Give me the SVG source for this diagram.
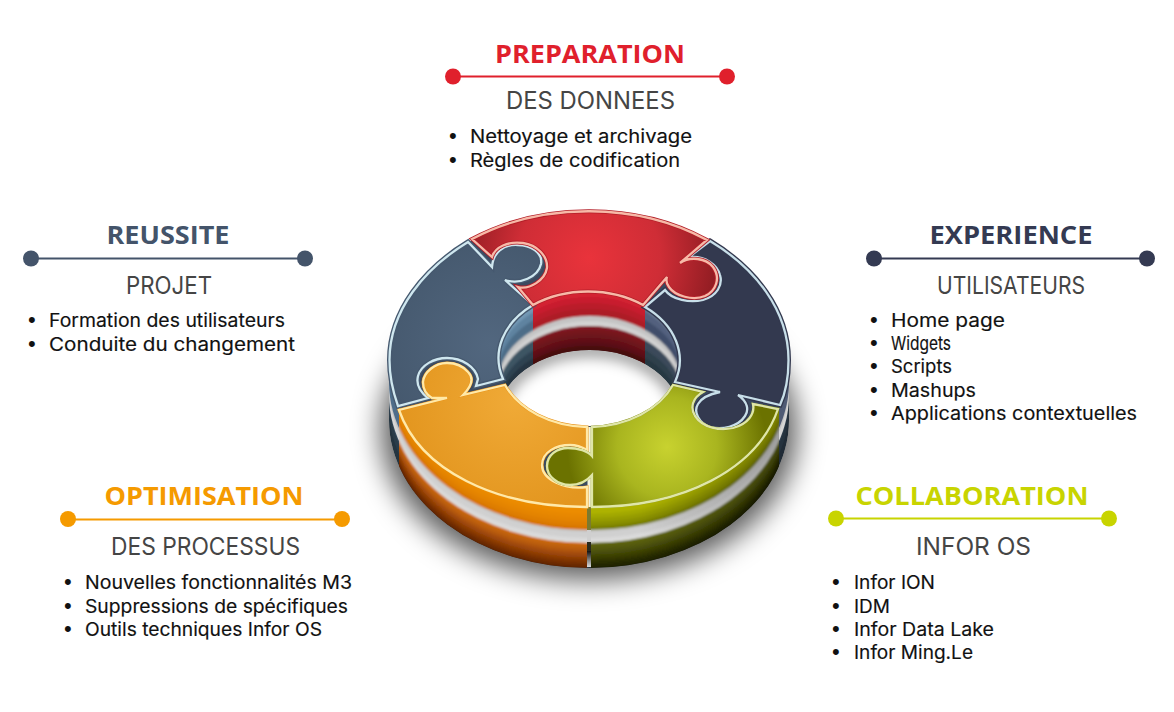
<svg xmlns="http://www.w3.org/2000/svg" width="1174" height="712" viewBox="0 0 1174 712">
<style>
.h{font-family:"Open Sans","Liberation Sans",sans-serif;font-weight:700;font-size:25.5px;text-anchor:middle}
.s{font-family:"Inter","Liberation Sans",sans-serif;font-size:24px;fill:#454545}
.b{font-family:"Inter","Liberation Sans",sans-serif;font-size:18.5px;fill:#111;stroke:#111;stroke-width:.15}
.d{font-family:"Liberation Sans",sans-serif;font-size:22px;fill:#111}
.p{stroke-linejoin:miter}
</style>
<defs>
<ellipse id="oe" cx="589" cy="360" rx="200" ry="148"/>
<ellipse id="he" cx="589.5" cy="358" rx="92" ry="68"/>
<filter id="blur" x="-30%" y="-30%" width="160%" height="160%"><feGaussianBlur stdDeviation="14"/></filter>
<filter id="soft" x="-5%" y="-5%" width="110%" height="110%"><feGaussianBlur stdDeviation="1.2"/></filter>
<filter id="hs" x="-20%" y="-20%" width="140%" height="140%"><feGaussianBlur stdDeviation="7"/></filter>
<clipPath id="body"><path d="M389 360A200 148 0 0 1 789 360V420A200 148 0 0 1 389 420Z"/></clipPath>
<clipPath id="cL"><rect x="380" y="200" width="209" height="380"/></clipPath>
<clipPath id="cR"><rect x="589" y="200" width="210" height="380"/></clipPath>
<clipPath id="cO"><rect x="399" y="200" width="188" height="380"/></clipPath>
<clipPath id="cG"><rect x="591" y="200" width="188" height="380"/></clipPath>
<clipPath id="hole"><use href="#he"/></clipPath>
<clipPath id="wL"><rect x="490" y="280" width="43" height="160"/></clipPath>
<clipPath id="wC"><rect x="533" y="280" width="112" height="160"/></clipPath>
<clipPath id="wR"><rect x="645" y="280" width="45" height="160"/></clipPath>
<clipPath id="low"><ellipse cx="589.5" cy="418" rx="92" ry="68"/></clipPath>
<radialGradient id="gRed" gradientUnits="userSpaceOnUse" cx="589" cy="258" r="130"><stop offset="0" stop-color="#e9333b"/><stop offset=".55" stop-color="#cf2d36"/><stop offset="1" stop-color="#8f1c22"/></radialGradient>
<radialGradient id="gBlue" gradientUnits="userSpaceOnUse" cx="490" cy="345" r="130"><stop offset="0" stop-color="#52677f"/><stop offset="1" stop-color="#43566b"/></radialGradient>
<radialGradient id="gOr" gradientUnits="userSpaceOnUse" cx="515" cy="400" r="115"><stop offset="0" stop-color="#f0aa37"/><stop offset="1" stop-color="#e3961f"/></radialGradient>
<radialGradient id="gGr" gradientUnits="userSpaceOnUse" cx="667" cy="447" r="100"><stop offset="0" stop-color="#c8d22f"/><stop offset=".5" stop-color="#a9b51f"/><stop offset="1" stop-color="#6b7200"/></radialGradient>
<linearGradient id="gDk" x1="0" x2="1" y1="0" y2="0"><stop offset="0" stop-color="#000" stop-opacity="0"/><stop offset="1" stop-color="#000" stop-opacity=".25"/></linearGradient>
<linearGradient id="gGap" x1="0" x2="0" y1="0" y2="1"><stop offset="0" stop-color="#111"/><stop offset="1" stop-color="#ddd"/></linearGradient>
</defs>
<ellipse cx="589" cy="430" rx="208" ry="150" fill="#000" fill-opacity=".64" filter="url(#blur)"/>
<g id="donut-side">
<g clip-path="url(#body)">
<g clip-path="url(#cL)"><use href="#oe" y="60" fill="#24343f"/><use href="#oe" y="48" fill="#2a3c49"/><use href="#oe" y="38" fill="#34495a"/><use href="#oe" y="35" fill="#d6d6d6"/><use href="#oe" y="26" fill="#c4c4c4"/><use href="#oe" y="22" fill="#4e6d8a"/><use href="#oe" y="0" fill="#5f82a2"/></g>
<g clip-path="url(#cR)"><use href="#oe" y="60" fill="#202b36"/><use href="#oe" y="48" fill="#25323e"/><use href="#oe" y="38" fill="#2e3c4a"/><use href="#oe" y="35" fill="#d6d6d6"/><use href="#oe" y="26" fill="#c4c4c4"/><use href="#oe" y="22" fill="#4e5a74"/><use href="#oe" y="0" fill="#62708c"/></g>
<g clip-path="url(#cO)"><g filter="url(#soft)"><use href="#oe" y="66" fill="#5c2400"/><use href="#oe" y="59" fill="#6c2a02"/><use href="#oe" y="56" fill="#7a3003"/><use href="#oe" y="53" fill="#8a3a05"/><use href="#oe" y="50" fill="#984407"/><use href="#oe" y="47" fill="#a64e0a"/><use href="#oe" y="44" fill="#b4590e"/><use href="#oe" y="41" fill="#bf610f"/><use href="#oe" y="38" fill="#c86811"/><use href="#oe" y="36" fill="#d57014"/><use href="#oe" y="35" fill="#dadada"/><use href="#oe" y="30" fill="#d0d0d0"/><use href="#oe" y="24" fill="#c6c6c6"/><use href="#oe" y="22" fill="#d87600"/><use href="#oe" y="18" fill="#df7e00"/><use href="#oe" y="14" fill="#e48400"/><use href="#oe" y="10" fill="#e88800"/><use href="#oe" y="6" fill="#ec8c00"/><use href="#oe" y="0" fill="#f29400"/></g></g>
<g clip-path="url(#cG)"><g filter="url(#soft)"><use href="#oe" y="66" fill="#1c1f00"/><use href="#oe" y="59" fill="#242802"/><use href="#oe" y="56" fill="#2a2e04"/><use href="#oe" y="53" fill="#343805"/><use href="#oe" y="50" fill="#3d4206"/><use href="#oe" y="47" fill="#464b08"/><use href="#oe" y="44" fill="#505508"/><use href="#oe" y="41" fill="#565c08"/><use href="#oe" y="38" fill="#5d6309"/><use href="#oe" y="36" fill="#666c0a"/><use href="#oe" y="35" fill="#dadada"/><use href="#oe" y="30" fill="#d0d0d0"/><use href="#oe" y="24" fill="#c6c6c6"/><use href="#oe" y="22" fill="#7a8000"/><use href="#oe" y="18" fill="#8a9000"/><use href="#oe" y="14" fill="#969c00"/><use href="#oe" y="10" fill="#a2a800"/><use href="#oe" y="6" fill="#adb200"/><use href="#oe" y="0" fill="#bcc000"/></g></g>
<rect x="640" y="360" width="139" height="215" fill="url(#gDk)"/>
</g>
<use href="#oe" fill="#3b4a60"/>
<rect x="587" y="507" width="4" height="23" fill="#7a7a30"/><rect x="587" y="530" width="4" height="12" fill="#cfcfcf"/><rect x="587" y="542" width="4" height="9" fill="#2a2a1c"/><rect x="587" y="551" width="4" height="16" fill="url(#gGap)"/>
</g>
<g id="donut-hole" clip-path="url(#hole)">
<rect x="490" y="285" width="200" height="150" fill="#3b4a60"/>
<g clip-path="url(#wL)"><g filter="url(#soft)"><use href="#he" y="-4" fill="#7398b4"/><use href="#he" y="8" fill="#5f83a0"/><use href="#he" y="16" fill="#4d6d88"/><use href="#he" y="26" fill="#c4c4c4"/><use href="#he" y="31" fill="#d2d2d2"/><use href="#he" y="36" fill="#3e5464"/><use href="#he" y="46" fill="#2f4351"/><use href="#he" y="54" fill="#263642"/></g></g>
<g clip-path="url(#wC)"><g filter="url(#soft)"><use href="#he" y="-4" fill="#d42233"/><use href="#he" y="7" fill="#c81f2f"/><use href="#he" y="13" fill="#ba1c2b"/><use href="#he" y="19" fill="#ad1a27"/><use href="#he" y="26" fill="#c4c4c4"/><use href="#he" y="31" fill="#d2d2d2"/><use href="#he" y="36" fill="#7e1520"/><use href="#he" y="40" fill="#74141d"/><use href="#he" y="44" fill="#6c131a"/><use href="#he" y="48" fill="#621116"/><use href="#he" y="52" fill="#581012"/><use href="#he" y="56" fill="#470d0c"/></g></g>
<g clip-path="url(#wR)"><g filter="url(#soft)"><use href="#he" y="-4" fill="#66768f"/><use href="#he" y="8" fill="#53617e"/><use href="#he" y="16" fill="#414e6a"/><use href="#he" y="26" fill="#c4c4c4"/><use href="#he" y="31" fill="#d2d2d2"/><use href="#he" y="36" fill="#3a4a5a"/><use href="#he" y="46" fill="#2f3f4c"/><use href="#he" y="54" fill="#283742"/></g></g>
<g clip-path="url(#low)"><ellipse cx="589.5" cy="418" rx="92" ry="68" fill="#fff"/><ellipse cx="589.5" cy="418" rx="92" ry="68" fill="none" stroke="#000" stroke-opacity=".4" stroke-width="14" filter="url(#hs)"/></g>
</g>
<rect x="587.5" y="427" width="4" height="80" fill="#f3f3dc"/>
<g id="piece-blue"><path class="p" d="M468 242C425 268 389.500 310 389.500 360C389.500 377 393 392 398 406L428 398C420 392 416 384 418 376C421 365 434 358 447 358C462 358 476 367 478 379L476 386L503 379A92 68 0 0 1 533 305L505 280C520 285 538 277 541 264C543 252 530 245 518 245C503 244 493 253 492 267Z" fill="url(#gBlue)" stroke="#46596f" stroke-width="5"/><path class="p" d="M468 242C425 268 389.500 310 389.500 360C389.500 377 393 392 398 406L428 398C420 392 416 384 418 376C421 365 434 358 447 358C462 358 476 367 478 379L476 386L503 379A92 68 0 0 1 533 305L505 280C520 285 538 277 541 264C543 252 530 245 518 245C503 244 493 253 492 267Z" fill="none" stroke="#cfe7ef" stroke-width="2.300"/></g>
<g id="piece-navy"><path class="p" d="M710 241C755 268 788.500 310 788.500 360C788.500 377 786 392 780 405L738 395C748 402 749 410 745 416C738 427 722 430 710 427C699 423 693 412 698 404C702 397 710 394 720 392L675 382A92 68 0 0 0 645 307L665 290C672 300 690 303 703 300C717 296 723 285 720 275C717 264 705 257 693 257L685 260Z" fill="#33394f" stroke="#33394f" stroke-width="5"/><path class="p" d="M710 241C755 268 788.500 310 788.500 360C788.500 377 786 392 780 405L738 395C748 402 749 410 745 416C738 427 722 430 710 427C699 423 693 412 698 404C702 397 710 394 720 392L675 382A92 68 0 0 0 645 307L665 290C672 300 690 303 703 300C717 296 723 285 720 275C717 264 705 257 693 257L685 260Z" fill="none" stroke="#c8dfe9" stroke-width="2.300"/></g>
<g id="piece-red"><path class="p" d="M472 239A200 148 0 0 1 707 240L680 263C690 256 706 258 713 267C721 278 716 291 705 296C693 301 675 296 669 287C666 283 666 280 667 277L643 305A92 68 0 0 0 533 305L518 287C530 290 545 280 547 268C548 256 537 245 523 243C508 241 495 247 492 257Z" fill="url(#gRed)" stroke="#b31e28" stroke-width="4"/><path class="p" d="M472 239A200 148 0 0 1 707 240L680 263C690 256 706 258 713 267C721 278 716 291 705 296C693 301 675 296 669 287C666 283 666 280 667 277L643 305A92 68 0 0 0 533 305L518 287C530 290 545 280 547 268C548 256 537 245 523 243C508 241 495 247 492 257Z" fill="none" stroke="#f7b9a8" stroke-width="2.300"/></g>
<g id="piece-orange"><path class="p" d="M399 410C420 470 495 507 587 507L587 487C565 490 542 480 542 465C542 452 556 445 570 445C577 445 582 447 587 450L587 427A92 68 0 0 1 505 385L463 395C472 386 474 378 468 372C462 365 455 363 447 363C435 363 424 372 423 382C423 390 427 395 432 398L447 398Z" fill="url(#gOr)" stroke="#e9931a" stroke-width="3"/><path class="p" d="M399 410C420 470 495 507 587 507L587 487C565 490 542 480 542 465C542 452 556 445 570 445C577 445 582 447 587 450L587 427A92 68 0 0 1 505 385L463 395C472 386 474 378 468 372C462 365 455 363 447 363C435 363 424 372 423 382C423 390 427 395 432 398L447 398Z" fill="none" stroke="#ffe9a8" stroke-width="2.300"/></g>
<g id="piece-green"><path class="p" d="M592 427A92 68 0 0 0 673 385L703 392C692 398 690 408 695 416C703 428 720 431 733 428C748 424 755 414 753 404L778 409C757 470 682 507 592 507L592 475C586 482 578 485 570 485C557 485 547 476 547 466C547 455 557 448 568 448C578 448 588 451 592 456Z" fill="url(#gGr)" stroke="#7d8508" stroke-width="2.500"/><path class="p" d="M592 427A92 68 0 0 0 673 385L703 392C692 398 690 408 695 416C703 428 720 431 733 428C748 424 755 414 753 404L778 409C757 470 682 507 592 507L592 475C586 482 578 485 570 485C557 485 547 476 547 466C547 455 557 448 568 448C578 448 588 451 592 456Z" fill="none" stroke="#dfe6a8" stroke-width="2.300"/></g>
<g id="preparation">
<text class="h" x="590" y="62.500" fill="#e0202c" textLength="190" lengthAdjust="spacingAndGlyphs">PREPARATION</text>
<path d="M453 76.500H727" stroke="#e0202c" stroke-width="2"/><circle cx="453" cy="76.500" r="8" fill="#e0202c"/><circle cx="727" cy="76.500" r="8" fill="#e0202c"/>
<text class="s" x="506" y="109" textLength="169" lengthAdjust="spacingAndGlyphs">DES DONNEES</text>
<text class="d" x="449" y="143">•</text><text class="b" x="470" y="142.500" textLength="222" lengthAdjust="spacingAndGlyphs">Nettoyage et archivage</text>
<text class="d" x="449" y="167">•</text><text class="b" x="470" y="166.500" textLength="210" lengthAdjust="spacingAndGlyphs">Règles de codification</text>
</g>
<g id="reussite">
<text class="h" x="168" y="243.500" fill="#44546a" textLength="123" lengthAdjust="spacingAndGlyphs">REUSSITE</text>
<path d="M31 258.500H305" stroke="#44546a" stroke-width="2"/><circle cx="31" cy="258.500" r="8" fill="#44546a"/><circle cx="305" cy="258.500" r="8" fill="#44546a"/>
<text class="s" x="126" y="294" textLength="86" lengthAdjust="spacingAndGlyphs">PROJET</text>
<text class="d" x="28" y="327">•</text><text class="b" x="49" y="326.500" textLength="236" lengthAdjust="spacingAndGlyphs">Formation des utilisateurs</text>
<text class="d" x="28" y="351">•</text><text class="b" x="49" y="350.500" textLength="246" lengthAdjust="spacingAndGlyphs">Conduite du changement</text>
</g>
<g id="experience">
<text class="h" x="1011" y="243.500" fill="#343a52" textLength="163" lengthAdjust="spacingAndGlyphs">EXPERIENCE</text>
<path d="M874 258.500H1147" stroke="#343a52" stroke-width="2"/><circle cx="874" cy="258.500" r="8" fill="#343a52"/><circle cx="1147" cy="258.500" r="8" fill="#343a52"/>
<text class="s" x="937" y="294" textLength="148" lengthAdjust="spacingAndGlyphs">UTILISATEURS</text>
<text class="d" x="870" y="327">•</text><text class="b" x="891" y="326.500" textLength="114" lengthAdjust="spacingAndGlyphs">Home page</text>
<text class="d" x="870" y="350">•</text><text class="b" x="891" y="349.500" textLength="60" lengthAdjust="spacingAndGlyphs">Widgets</text>
<text class="d" x="870" y="373">•</text><text class="b" x="891" y="372.500" textLength="61" lengthAdjust="spacingAndGlyphs">Scripts</text>
<text class="d" x="870" y="397">•</text><text class="b" x="891" y="396.500" textLength="85" lengthAdjust="spacingAndGlyphs">Mashups</text>
<text class="d" x="870" y="420">•</text><text class="b" x="891" y="419.500" textLength="246" lengthAdjust="spacingAndGlyphs">Applications contextuelles</text>
</g>
<g id="optimisation">
<text class="h" x="204" y="505" fill="#f59a00" textLength="199" lengthAdjust="spacingAndGlyphs">OPTIMISATION</text>
<path d="M68 519.500H342" stroke="#f59a00" stroke-width="2"/><circle cx="68" cy="519" r="8" fill="#f59a00"/><circle cx="342" cy="519" r="8" fill="#f59a00"/>
<text class="s" x="111" y="555" textLength="189" lengthAdjust="spacingAndGlyphs">DES PROCESSUS</text>
<text class="d" x="64" y="589">•</text><text class="b" x="85" y="588.500" textLength="267" lengthAdjust="spacingAndGlyphs">Nouvelles fonctionnalités M3</text>
<text class="d" x="64" y="613">•</text><text class="b" x="85" y="612.500" textLength="263" lengthAdjust="spacingAndGlyphs">Suppressions de spécifiques</text>
<text class="d" x="64" y="636">•</text><text class="b" x="85" y="635.500" textLength="237" lengthAdjust="spacingAndGlyphs">Outils techniques Infor OS</text>
</g>
<g id="collaboration">
<text class="h" x="972" y="505" fill="#c8d400" textLength="233" lengthAdjust="spacingAndGlyphs">COLLABORATION</text>
<path d="M836 518.500H1109" stroke="#c8d400" stroke-width="2"/><circle cx="836" cy="518.500" r="8" fill="#c8d400"/><circle cx="1109" cy="518.500" r="8" fill="#c8d400"/>
<text class="s" x="916" y="555" textLength="115" lengthAdjust="spacingAndGlyphs">INFOR OS</text>
<text class="d" x="832" y="589">•</text><text class="b" x="854" y="588.500" textLength="81" lengthAdjust="spacingAndGlyphs">Infor ION</text>
<text class="d" x="832" y="613">•</text><text class="b" x="854" y="612.500" textLength="36" lengthAdjust="spacingAndGlyphs">IDM</text>
<text class="d" x="832" y="636">•</text><text class="b" x="854" y="635.500" textLength="140" lengthAdjust="spacingAndGlyphs">Infor Data Lake</text>
<text class="d" x="832" y="659">•</text><text class="b" x="854" y="658.500" textLength="119" lengthAdjust="spacingAndGlyphs">Infor Ming.Le</text>
</g>
</svg>
